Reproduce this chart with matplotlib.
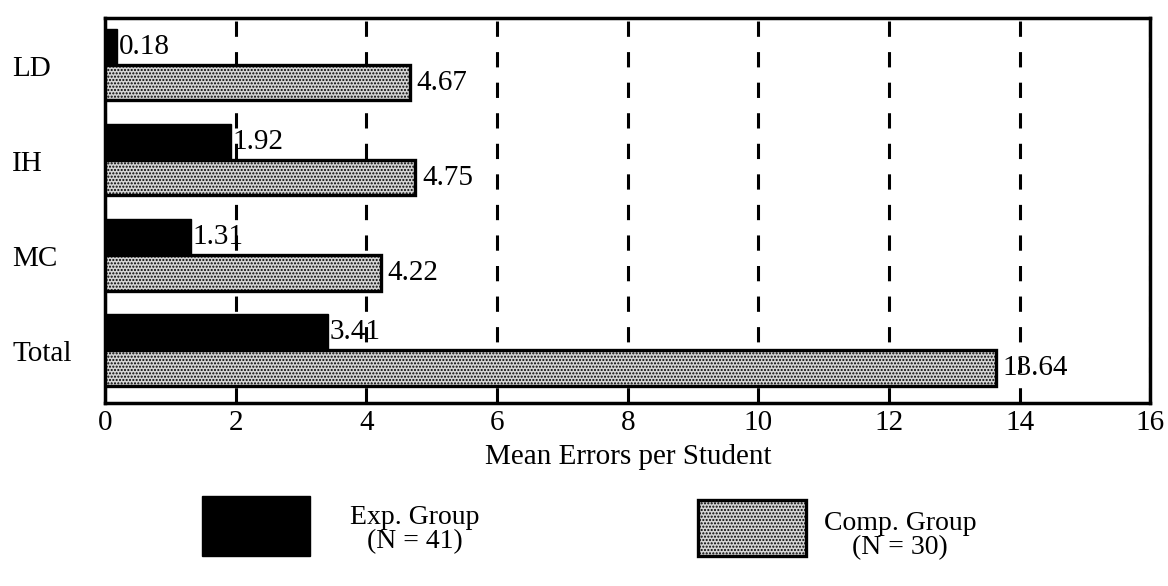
import matplotlib
matplotlib.use('Agg')
import matplotlib.pyplot as plt
from matplotlib.patches import Rectangle
import numpy as np

plt.rcParams['font.family'] = ['Liberation Serif', 'DejaVu Serif']
plt.rcParams['hatch.linewidth'] = 1.0

# Mean errors per student, by error type
categories = ['LD', 'IH', 'MC', 'Total']
exp_values = [0.18, 1.92, 1.31, 3.41]
comp_values = [4.67, 4.75, 4.22, 13.64]
exp_labels = ['0.18', '1.92', '1.31', '3.41']
comp_labels = ['4.67', '4.75', '4.22', '13.64']
x_ticks = [0, 2, 4, 6, 8, 10, 12, 14, 16]
legend_names = ['Exp. Group\n(N = 41)', 'Comp. Group\n(N = 30)']

fig = plt.figure(figsize=(11.68, 5.86), dpi=100)
ax = fig.add_axes([0.09, 0.312, 0.895, 0.657])

y = np.arange(len(categories))
h = 0.37

ax.barh(y - 0.2, exp_values, height=h, color='black', edgecolor='black', zorder=3)
ax.barh(y + 0.18, comp_values, height=h, color='#d4d4d4', edgecolor='black',
        hatch='.....', linewidth=2.4, zorder=3)

for yi, v, s in zip(y, exp_values, exp_labels):
    ax.text(v + 0.03, yi - 0.2, s, va='center', ha='left', fontsize=21, zorder=4)
for yi, v, s in zip(y, comp_values, comp_labels):
    ax.text(v + 0.1, yi + 0.18, s, va='center', ha='left', fontsize=21, zorder=4)

ax.set_xlim(0, 16)
ax.set_ylim(3.55, -0.5)
ax.set_xticks(x_ticks)
ax.set_xticklabels([str(t) for t in x_ticks], fontsize=21)
ax.set_yticks(y)
ax.set_yticklabels(categories, fontsize=21, ha='left')
ax.tick_params(axis='y', length=0, pad=67)
ax.tick_params(axis='x', direction='in', length=8, width=2, pad=5)

ax.grid(axis='x', color='black', linestyle=(0, (5, 5)), linewidth=2.2, zorder=0)
ax.set_axisbelow(True)
for sp in ax.spines.values():
    sp.set_linewidth(2.5)

ax.set_xlabel('Mean Errors per Student', fontsize=21, labelpad=6)

# legend drawn by hand below the axes
lax = fig.add_axes([0, 0, 1, 1], facecolor='none')
lax.set_xlim(0, 1168)
lax.set_ylim(586, 0)
lax.axis('off')
lax.add_patch(Rectangle((202, 496), 108, 60, facecolor='black', edgecolor='black'))
lax.add_patch(Rectangle((698, 500), 108, 56, facecolor='#d4d4d4', edgecolor='black',
                        hatch='.....', linewidth=2.4))
lax.text(415, 530, legend_names[0], ha='center', va='center', fontsize=20, linespacing=0.95)
lax.text(900, 536, legend_names[1], ha='center', va='center', fontsize=20, linespacing=0.95)

fig.savefig('out.png', dpi=100)
